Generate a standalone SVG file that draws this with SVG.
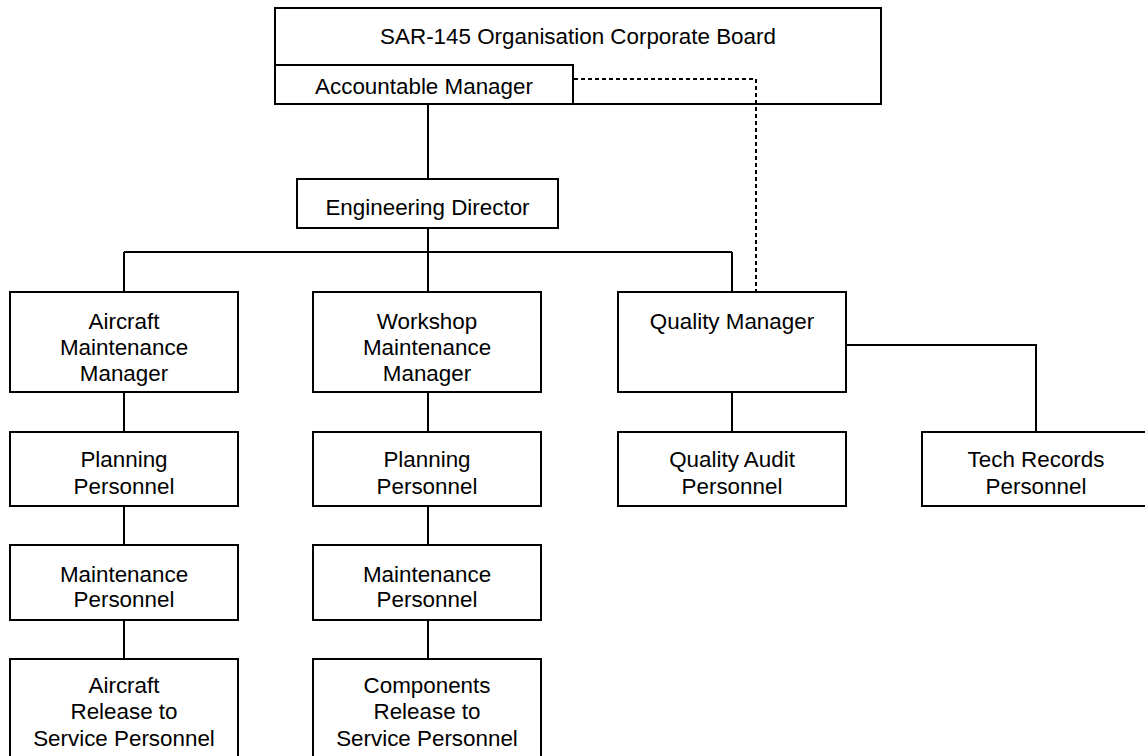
<svg xmlns="http://www.w3.org/2000/svg" width="1145" height="756" viewBox="0 0 1145 756">
<style>
.box{fill:#fff;stroke:#000;stroke-width:2}
.t{font-family:"Liberation Sans",Arial,sans-serif;font-size:22.4px;fill:#000;text-anchor:middle}
.c{fill:none;stroke:#000;stroke-width:2}
.d{fill:none;stroke:#000;stroke-width:2;stroke-dasharray:4 3}
</style>
<rect width="1145" height="756" fill="#fff"/>
<g id="board"><rect class="box" x="275" y="8" width="606" height="96"/><text class="t" x="578" y="44">SAR-145 Organisation Corporate Board</text></g>
<g id="accountable"><rect class="box" x="275" y="65" width="298" height="39"/><text class="t" x="424" y="94">Accountable Manager</text></g>
<g id="engdir"><rect class="box" x="297" y="179" width="261" height="49"/><text class="t" x="427.5" y="215">Engineering Director</text></g>
<g id="amm"><rect class="box" x="10" y="292" width="228" height="100"/><text class="t" x="124" y="329">Aircraft</text><text class="t" x="124" y="355">Maintenance</text><text class="t" x="124" y="381">Manager</text></g>
<g id="wmm"><rect class="box" x="313" y="292" width="228" height="100"/><text class="t" x="427" y="329">Workshop</text><text class="t" x="427" y="355">Maintenance</text><text class="t" x="427" y="381">Manager</text></g>
<g id="qm"><rect class="box" x="618" y="292" width="228" height="100"/><text class="t" x="732" y="329">Quality Manager</text></g>
<g id="plan1"><rect class="box" x="10" y="432" width="228" height="74"/><text class="t" x="124" y="467">Planning</text><text class="t" x="124" y="494">Personnel</text></g>
<g id="plan2"><rect class="box" x="313" y="432" width="228" height="74"/><text class="t" x="427" y="467">Planning</text><text class="t" x="427" y="494">Personnel</text></g>
<g id="qa"><rect class="box" x="618" y="432" width="228" height="74"/><text class="t" x="732" y="467">Quality Audit</text><text class="t" x="732" y="494">Personnel</text></g>
<g id="tech"><rect class="box" x="922" y="432" width="228" height="74"/><text class="t" x="1036" y="467">Tech Records</text><text class="t" x="1036" y="494">Personnel</text></g>
<g id="maint1"><rect class="box" x="10" y="545" width="228" height="75"/><text class="t" x="124" y="582">Maintenance</text><text class="t" x="124" y="607">Personnel</text></g>
<g id="maint2"><rect class="box" x="313" y="545" width="228" height="75"/><text class="t" x="427" y="582">Maintenance</text><text class="t" x="427" y="607">Personnel</text></g>
<g id="crs1"><rect class="box" x="10" y="659" width="228" height="100"/><text class="t" x="124" y="693">Aircraft</text><text class="t" x="124" y="719">Release to</text><text class="t" x="124" y="746">Service Personnel</text></g>
<g id="crs2"><rect class="box" x="313" y="659" width="228" height="100"/><text class="t" x="427" y="693">Components</text><text class="t" x="427" y="719">Release to</text><text class="t" x="427" y="746">Service Personnel</text></g>
<g id="connectors">
<path class="c" d="M428 104V179M428 228V292M124 252H732M124 252V292M732 252V292"/>
<path class="c" d="M124 392V432M124 506V545M124 620V659"/>
<path class="c" d="M428 392V432M428 506V545M428 620V659"/>
<path class="c" d="M732 392V432M846 345H1036V432"/>
<path class="d" d="M574 79H756V291"/>
</g>
</svg>
